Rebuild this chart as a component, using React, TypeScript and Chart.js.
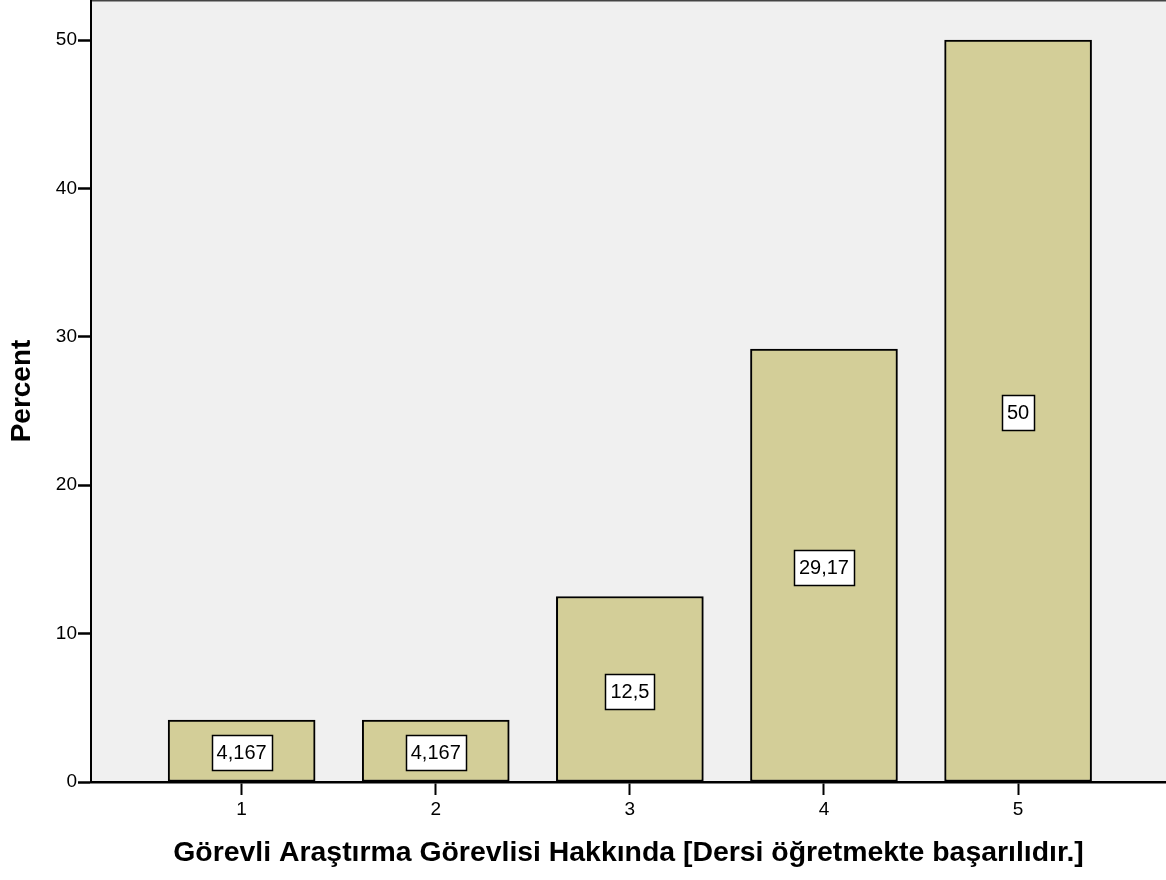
import React, { useEffect, useRef } from "react";
import { Chart, registerables } from "chart.js";

Chart.register(...registerables);

const categories = [1, 2, 3, 4, 5];
const percentValues = [4.167, 4.167, 12.5, 29.17, 50];
const yTicks = [0, 10, 20, 30, 40, 50];
const xTitle = "Görevli Araştırma Görevlisi Hakkında [Dersi öğretmekte başarılıdır.]";
const yTitle = "Percent";

const FONT = "'Liberation Sans', Arial, sans-serif";

const bgPlugin = {
  id: "bgPlugin",
  beforeDraw(chart: any) {
    const { ctx, chartArea } = chart;
    ctx.save();
    ctx.fillStyle = "#F0F0F0";
    ctx.fillRect(chartArea.left, chartArea.top, chartArea.right - chartArea.left, chartArea.bottom - chartArea.top);
    ctx.strokeStyle = "#444444";
    ctx.lineWidth = 1.5;
    ctx.beginPath();
    ctx.moveTo(chartArea.left, chartArea.top + 0.75);
    ctx.lineTo(chartArea.right, chartArea.top + 0.75);
    ctx.stroke();
    ctx.restore();
  },
};

const labelPlugin = {
  id: "labelPlugin",
  afterDatasetsDraw(chart: any) {
    const { ctx } = chart;
    const meta = chart.getDatasetMeta(0);
    ctx.save();
    ctx.font = `20px ${FONT}`;
    ctx.textAlign = "center";
    ctx.textBaseline = "middle";
    meta.data.forEach((bar: any, i: number) => {
      const text = String(percentValues[i]).replace(".", ",");
      const cx = bar.x;
      const cy = (bar.y + bar.base) / 2 + 2;
      const w = ctx.measureText(text).width + 10;
      const h = 35;
      const x0 = Math.round(cx - w / 2) + 0.5;
      const y0 = Math.round(cy - h / 2) + 0.5;
      ctx.fillStyle = "#FFFFFF";
      ctx.fillRect(x0, y0, Math.round(w), h);
      ctx.strokeStyle = "#000000";
      ctx.lineWidth = 1.5;
      ctx.strokeRect(x0, y0, Math.round(w), h);
      ctx.fillStyle = "#000000";
      ctx.fillText(text, cx, cy + 1);
    });
    ctx.restore();
  },
  afterDraw(chart: any) {
    const { ctx, chartArea } = chart;
    ctx.save();
    ctx.fillStyle = "#000000";
    ctx.font = `bold 28.4px ${FONT}`;
    ctx.textAlign = "center";
    ctx.textBaseline = "middle";
    ctx.fillText(xTitle, (chartArea.left + chartArea.right) / 2, 853);
    ctx.font = `bold 28px ${FONT}`;
    ctx.translate(22, (chartArea.top + chartArea.bottom) / 2);
    ctx.rotate(-Math.PI / 2);
    ctx.fillText(yTitle, 0, 0);
    ctx.restore();
  },
};

export default function App() {
  const ref = useRef<HTMLCanvasElement | null>(null);
  useEffect(() => {
    document.body.style.margin = "0";
    const canvas = ref.current;
    if (!canvas) return;
    const chart = new Chart(canvas, {
      type: "bar",
      data: {
        datasets: [
          {
            data: categories.map((c, i) => ({ x: c, y: percentValues[i] })),
            backgroundColor: "#D3CE98",
            borderColor: "#000000",
            borderWidth: 2,
            borderSkipped: false,
            barThickness: 147,
          } as any,
        ],
      },
      options: {
        responsive: false,
        animation: false,
        layout: { padding: 0 },
        plugins: {
          legend: { display: false },
          tooltip: { enabled: false },
          title: { display: false },
        },
        scales: {
          x: {
            type: "linear",
            offset: false,
            min: 0.224,
            max: 5.762,
            afterBuildTicks: (scale: any) => {
              scale.ticks = categories.map((v) => ({ value: v }));
            },
            afterFit: (scale: any) => {
              scale.height = 98;
              scale.paddingLeft = 0;
              scale.paddingRight = 0;
            },
            ticks: {
              color: "#000000",
              font: { family: FONT, size: 19 },
              padding: 3,
              maxRotation: 0,
              autoSkip: false,
              callback: (v: any) => String(v),
            },
            grid: {
              offset: false,
              drawOnChartArea: false,
              drawTicks: true,
              tickLength: 13,
              tickWidth: 2,
              tickColor: "#000000",
            },
            border: { display: true, color: "#000000", width: 2.5 },
          } as any,
          y: {
            type: "linear",
            min: 0,
            max: 52.7,
            afterBuildTicks: (scale: any) => {
              scale.ticks = yTicks.map((v) => ({ value: v }));
            },
            afterFit: (scale: any) => {
              scale.width = 91;
              scale.paddingTop = 0;
              scale.paddingBottom = 0;
            },
            ticks: {
              color: "#000000",
              font: { family: FONT, size: 19 },
              padding: 1,
              callback: (v: any) => String(v),
            },
            grid: {
              drawOnChartArea: false,
              drawTicks: true,
              tickLength: 13,
              tickWidth: 2.5,
              tickColor: "#000000",
            },
            border: { display: true, color: "#000000", width: 2 },
          } as any,
        },
      },
      plugins: [bgPlugin, labelPlugin],
    });
    return () => chart.destroy();
  }, []);
  return <canvas ref={ref} width={1166} height={880} style={{ display: "block" }} />;
}
